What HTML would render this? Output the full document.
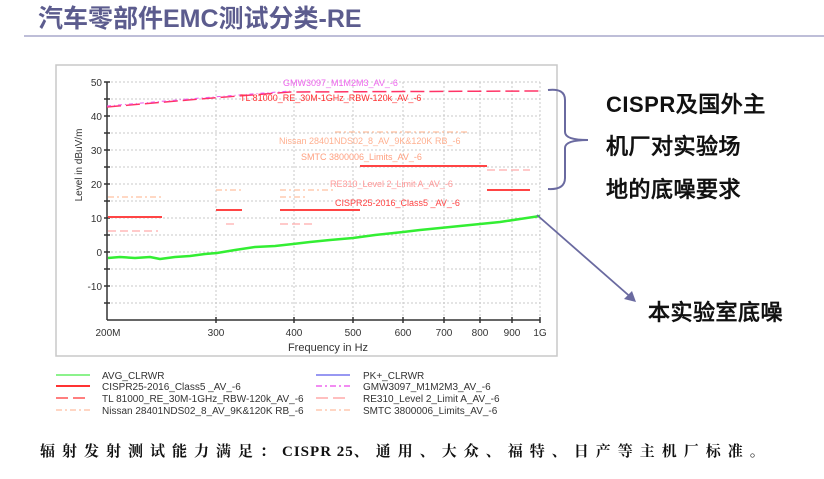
<!DOCTYPE html>
<html><head><meta charset="utf-8"><style>
body{margin:0;background:#fff;width:824px;height:474px;overflow:hidden}
svg text{font-family:"Liberation Sans",sans-serif}
.cj{font-family:"Liberation Serif","Noto Serif CJK SC",serif}
</style></head><body>
<svg width="824" height="474" xmlns="http://www.w3.org/2000/svg">
<text x="38" y="27" font-size="25" font-weight="bold" fill="#5c5c8e" style="font-family:'Liberation Sans','Noto Sans CJK SC',sans-serif">汽车零部件EMC测试分类-RE</text>
<line x1="24" y1="36" x2="824" y2="36" stroke="#a8a8cc" stroke-width="1.5"/>
<rect x="56" y="65" width="501" height="291" fill="#fff" stroke="#c8c8c8" stroke-width="1.5"/>
<g stroke="#c8c8c8" stroke-dasharray="2,2" stroke-width="1">
<line x1="107" y1="82" x2="540" y2="82"/><line x1="107" y1="99" x2="540" y2="99"/><line x1="107" y1="116" x2="540" y2="116"/><line x1="107" y1="133" x2="540" y2="133"/><line x1="107" y1="150" x2="540" y2="150"/><line x1="107" y1="167" x2="540" y2="167"/><line x1="107" y1="184" x2="540" y2="184"/><line x1="107" y1="201" x2="540" y2="201"/><line x1="107" y1="218" x2="540" y2="218"/><line x1="107" y1="235" x2="540" y2="235"/><line x1="107" y1="252" x2="540" y2="252"/><line x1="107" y1="269" x2="540" y2="269"/><line x1="107" y1="286" x2="540" y2="286"/><line x1="107" y1="303" x2="540" y2="303"/>
<line x1="216" y1="82" x2="216" y2="320"/><line x1="294" y1="82" x2="294" y2="320"/><line x1="353" y1="82" x2="353" y2="320"/><line x1="403" y1="82" x2="403" y2="320"/><line x1="444" y1="82" x2="444" y2="320"/><line x1="480" y1="82" x2="480" y2="320"/><line x1="512" y1="82" x2="512" y2="320"/><line x1="540" y1="82" x2="540" y2="320"/>
</g>
<g stroke="#333" stroke-width="1.5">
<line x1="107" y1="82" x2="107" y2="320"/><line x1="107" y1="320" x2="540" y2="320"/>
<line x1="104" y1="82" x2="110" y2="82"/><line x1="104" y1="99" x2="110" y2="99"/><line x1="104" y1="116" x2="110" y2="116"/><line x1="104" y1="133" x2="110" y2="133"/><line x1="104" y1="150" x2="110" y2="150"/><line x1="104" y1="167" x2="110" y2="167"/><line x1="104" y1="184" x2="110" y2="184"/><line x1="104" y1="201" x2="110" y2="201"/><line x1="104" y1="218" x2="110" y2="218"/><line x1="104" y1="235" x2="110" y2="235"/><line x1="104" y1="252" x2="110" y2="252"/><line x1="104" y1="269" x2="110" y2="269"/><line x1="104" y1="286" x2="110" y2="286"/><line x1="104" y1="303" x2="110" y2="303"/>
<line x1="216" y1="317" x2="216" y2="323"/><line x1="294" y1="317" x2="294" y2="323"/><line x1="353" y1="317" x2="353" y2="323"/><line x1="403" y1="317" x2="403" y2="323"/><line x1="444" y1="317" x2="444" y2="323"/><line x1="480" y1="317" x2="480" y2="323"/><line x1="512" y1="317" x2="512" y2="323"/><line x1="540" y1="317" x2="540" y2="323"/>
</g>
<g font-size="10" fill="#333" text-anchor="end">
<text x="102" y="86">50</text><text x="102" y="120">40</text><text x="102" y="154">30</text><text x="102" y="188">20</text><text x="102" y="222">10</text><text x="102" y="256">0</text><text x="102" y="290">-10</text>
</g>
<g font-size="10" fill="#333" text-anchor="middle">
<text x="108" y="336">200M</text><text x="216" y="336">300</text><text x="294" y="336">400</text><text x="353" y="336">500</text><text x="403" y="336">600</text><text x="444" y="336">700</text><text x="480" y="336">800</text><text x="512" y="336">900</text><text x="540" y="336">1G</text>
<text x="328" y="351" font-size="11">Frequency in Hz</text>
</g>
<text transform="translate(82,165) rotate(-90)" font-size="10" fill="#333" text-anchor="middle">Level in dBuV/m</text>
<polyline points="107,107 200,99 290,92 540,91" fill="none" stroke="#ff3366" stroke-width="1.5" stroke-dasharray="14,5"/>
<polyline points="107,106 200,98 290,91" fill="none" stroke="#ee55ee" stroke-width="1" stroke-dasharray="4,3,1,3"/>
<g stroke="#ff4444" stroke-width="2">
<line x1="108" y1="217" x2="162" y2="217"/><line x1="216" y1="210" x2="242" y2="210"/><line x1="280" y1="210" x2="360" y2="210"/><line x1="360" y1="166" x2="487" y2="166"/><line x1="487" y1="190" x2="530" y2="190"/>
</g>
<g stroke="#ffaaaa" stroke-width="1.2" stroke-dasharray="8,4">
<line x1="108" y1="231" x2="158" y2="231"/><line x1="226" y1="224" x2="234" y2="224"/><line x1="280" y1="224" x2="312" y2="224"/><line x1="487" y1="170" x2="530" y2="170"/>
</g>
<g stroke="#ffc0a0" stroke-width="1.2" stroke-dasharray="6,3,2,3">
<line x1="108" y1="197" x2="162" y2="197"/><line x1="216" y1="190" x2="242" y2="190"/><line x1="280" y1="190" x2="335" y2="190"/><line x1="280" y1="197" x2="305" y2="197"/><line x1="335" y1="132" x2="470" y2="132"/>
</g>
<g font-size="9" style="font-family:'Liberation Mono',monospace">
<text x="283" y="86" fill="#ee66ee">GMW3097_M1M2M3_AV_-6</text>
<text x="240" y="101" fill="#ff3333">TL 81000_RE_30M-1GHz_RBW-120k_AV_-6</text>
<text x="279" y="144" fill="#ffb090">Nissan 28401NDS02_8_AV_9K&amp;120K RB_-6</text>
<text x="301" y="160" fill="#ffa080">SMTC 3800006_Limits_AV_-6</text>
<text x="330" y="187" fill="#ff9999">RE310_Level 2_Limit A_AV_-6</text>
<text x="335" y="206" fill="#ff4444">CISPR25-2016_Class5 _AV_-6</text>
</g>
<polyline points="108,258 120,257 135,258 150,257 160,259 175,257 190,256 205,254 217,253 235,250 255,247 275,246 293,244 310,242 330,240 353,238 375,235 403,232 420,230 440,228 460,226 480,224 500,222 520,219 540,216" fill="none" stroke="#33ee33" stroke-width="2.5" stroke-linejoin="round"/>
<g stroke-width="1.5">
<line x1="56" y1="375" x2="90" y2="375" stroke="#66ee66"/>
<line x1="56" y1="386" x2="90" y2="386" stroke="#ff3333" stroke-width="2"/>
<line x1="56" y1="398" x2="90" y2="398" stroke="#ff5555" stroke-dasharray="12,5"/>
<line x1="56" y1="410" x2="90" y2="410" stroke="#ffc8b0" stroke-dasharray="6,3,2,3"/>
<line x1="316" y1="375" x2="350" y2="375" stroke="#7777ee"/>
<line x1="316" y1="386" x2="350" y2="386" stroke="#ee66ee" stroke-dasharray="6,3,2,3"/>
<line x1="316" y1="398" x2="350" y2="398" stroke="#ffaaaa" stroke-dasharray="12,5"/>
<line x1="316" y1="410" x2="350" y2="410" stroke="#ffc8b0" stroke-dasharray="6,3,2,3"/>
</g>
<g font-size="10" fill="#333">
<text x="102" y="379">AVG_CLRWR</text><text x="102" y="390">CISPR25-2016_Class5 _AV_-6</text><text x="102" y="402">TL 81000_RE_30M-1GHz_RBW-120k_AV_-6</text><text x="102" y="414">Nissan 28401NDS02_8_AV_9K&amp;120K RB_-6</text>
<text x="363" y="379">PK+_CLRWR</text><text x="363" y="390">GMW3097_M1M2M3_AV_-6</text><text x="363" y="402">RE310_Level 2_Limit A_AV_-6</text><text x="363" y="414">SMTC 3800006_Limits_AV_-6</text>
</g>
<path d="M548,90 Q565,88 565,100 L565,132 Q565,140 588,140 Q565,140 565,148 L565,178 Q565,190 548,189" fill="none" stroke="#6a6aa0" stroke-width="2"/>
<line x1="537" y1="215" x2="634" y2="300" stroke="#6a6aa0" stroke-width="1.8"/>
<path d="M636,302 L624,299 L632,291 Z" fill="#6a6aa0"/>
<g class="cj" font-size="22" fill="#111" font-weight="bold" letter-spacing="0.5">
<text x="606" y="112">CISPR及国外主</text>
<text x="606" y="154">机厂对实验场</text>
<text x="606" y="197">地的底噪要求</text>
<text x="648" y="320">本实验室底噪</text>
</g>
<text class="cj" x="40" y="456" font-size="15" font-weight="bold" letter-spacing="7" fill="#111">辐射发射测试能力满足：<tspan letter-spacing="1">CISPR 25</tspan>、通用、大众、福特、日产等主机厂标准。</text>
</svg>
</body></html>
